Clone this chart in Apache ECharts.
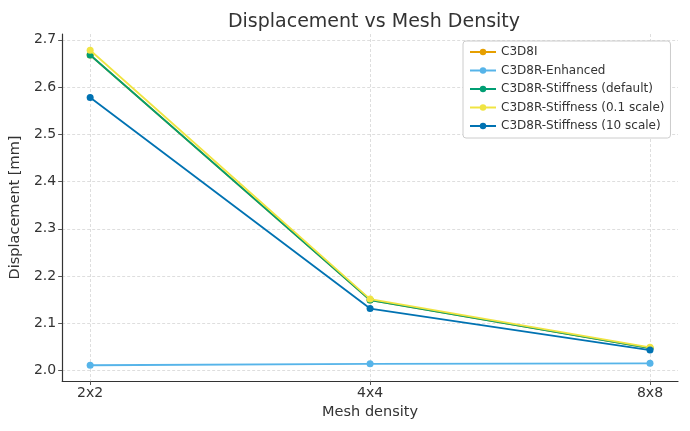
<!DOCTYPE html>
<html>
<head>
<meta charset="utf-8">
<script src="https://cdn.jsdelivr.net/npm/echarts@6/dist/echarts.min.js"></script>
<style>
  html, body { margin: 0; padding: 0; background: #fff; }
  #main { width: 690px; height: 431px; }
</style>
</head>
<body>
<div id="main"></div>
<script>
// mesh densities (x positions 0,1,2)
var meshLabels = ['2x2', '4x4', '8x8'];
var seriesNames = ['C3D8I', 'C3D8R-Enhanced', 'C3D8R-Stiffness (default)',
                   'C3D8R-Stiffness (0.1 scale)', 'C3D8R-Stiffness (10 scale)'];
var c3d8i      = [2.668, 2.149, 2.047];
var enhanced   = [2.011, 2.014, 2.015];
var stiffDef   = [2.668, 2.149, 2.047];
var stiff01    = [2.678, 2.151, 2.049];
var stiff10    = [2.578, 2.131, 2.043];
var yTicks = [2.0, 2.1, 2.2, 2.3, 2.4, 2.5, 2.6, 2.7];
var colors = ['#E69F00', '#56B4E9', '#009E73', '#F0E442', '#0072B2'];

var allData = [c3d8i, enhanced, stiffDef, stiff01, stiff10];

var chartDom = document.getElementById('main');
var myChart = echarts.init(chartDom);

var series = allData.map(function (vals, i) {
  return {
    name: seriesNames[i],
    type: 'line',
    data: vals.map(function (v, j) { return [j, v]; }),
    symbol: 'circle',
    symbolSize: 7,
    lineStyle: { width: 1.8, color: colors[i] },
    itemStyle: { color: colors[i] },
    emphasis: { disabled: true },
    z: 2 + i
  };
});

var option = {
  animation: false,
  textStyle: { fontFamily: 'DejaVu Sans' },
  title: {
    text: 'Displacement vs Mesh Density',
    left: 369,
    textAlign: 'center',
    top: 8,
    textStyle: { fontSize: 19, fontWeight: 'normal', color: '#333' }
  },
  legend: {
    orient: 'vertical',
    left: 463,
    top: 41,
    itemWidth: 26,
    itemHeight: 8,
    itemGap: 6.5,
    padding: [5, 6, 6, 6],
    backgroundColor: '#fff',
    borderColor: '#ccc',
    borderWidth: 1,
    borderRadius: 3,
    textStyle: { fontSize: 12, color: '#333' },
    data: seriesNames
  },
  grid: { left: 60, right: 12, top: 34, bottom: 50 },
  xAxis: {
    type: 'value',
    min: -0.1,
    max: 2.1,
    name: 'Mesh density',
    nameLocation: 'middle',
    nameGap: 22,
    nameTextStyle: { fontSize: 14.5, color: '#333' },
    axisLine: { show: true, onZero: false, lineStyle: { color: '#333', width: 1.2 } },
    axisTick: { show: true, length: 4, customValues: [0, 1, 2], lineStyle: { color: '#555' } },
    axisLabel: {
      customValues: [0, 1, 2],
      fontSize: 14, color: '#333', margin: 5,
      formatter: function (v) { return meshLabels[Math.round(v)]; }
    },
    splitLine: { show: true, lineStyle: { color: '#d6d6d6', type: [3, 2], width: 0.8 } }
  },
  yAxis: {
    type: 'value',
    min: 1.9776,
    max: 2.7124,
    name: 'Displacement [mm]',
    nameLocation: 'middle',
    nameGap: 37,
    nameTextStyle: { fontSize: 14.5, color: '#333' },
    axisLine: { show: true, onZero: false, lineStyle: { color: '#333', width: 1.2 } },
    axisTick: { show: true, length: 4, customValues: yTicks, lineStyle: { color: '#555' } },
    axisLabel: {
      customValues: yTicks,
      fontSize: 14, color: '#333', margin: 6,
      formatter: function (v) { return v.toFixed(1); }
    },
    splitLine: { show: true, lineStyle: { color: '#d6d6d6', type: [3, 2], width: 0.8 } }
  },
  series: series
};

option && myChart.setOption(option);
</script>
</body>
</html>
